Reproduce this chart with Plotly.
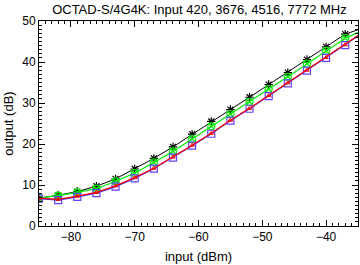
import plotly.graph_objects as go

x_in = [-85, -82, -79, -76, -73, -70, -67, -64, -61, -58, -55, -52, -49, -46, -43, -40, -37, -34]
out_420 = [6.8, 7.5, 8.4, 9.7, 11.5, 13.9, 16.5, 19.3, 22.4, 25.5, 28.4, 31.4, 34.5, 37.4, 40.6, 43.7, 46.8, 48.4]
out_3676 = [6.8, 7.4, 8.2, 9.1, 10.9, 12.9, 15.5, 18.2, 21.2, 24.3, 27.3, 30.3, 33.4, 36.4, 39.6, 42.7, 45.8, 47.9]
out_4516 = [6.8, 6.5, 7.3, 8.2, 9.8, 11.8, 14.1, 16.8, 19.7, 22.6, 25.8, 28.7, 31.8, 34.9, 38.0, 41.1, 44.2, 47.5]
out_7772 = [6.7, 6.3, 7.1, 8.0, 9.6, 11.6, 14.0, 16.7, 19.6, 22.5, 25.7, 28.6, 31.7, 34.8, 37.9, 41.0, 44.1, 47.4]

FONT = "Liberation Sans, Arial, sans-serif"

fig = go.Figure()
fig.add_trace(go.Scatter(x=x_in, y=out_420, mode="lines+markers", name="420",
                         line=dict(color="black", width=1),
                         marker=dict(symbol="asterisk-open", size=7, color="black", line=dict(color="black", width=1.2))))
fig.add_trace(go.Scatter(x=x_in, y=out_3676, mode="lines+markers", name="3676",
                         line=dict(color="#00ee00", width=1.2),
                         marker=dict(symbol="circle-x-open", size=7, color="#00ee00", line=dict(color="#00ee00", width=1.2))))
fig.add_trace(go.Scatter(x=x_in, y=out_7772, mode="lines+markers", name="7772",
                         line=dict(color="#3030ff", width=1.2),
                         marker=dict(symbol="square-open", size=7, color="#6040ff", line=dict(color="#6040ff", width=1.2))))
fig.add_trace(go.Scatter(x=x_in, y=out_4516, mode="lines+markers", name="4516",
                         line=dict(color="#ff0000", width=1.2),
                         marker=dict(symbol="triangle-up-open", size=4, color="#ff0000", line=dict(color="#ff0000", width=1))))

axis_common = dict(showgrid=False, zeroline=False, showline=True, linecolor="black", linewidth=1,
                   mirror="ticks", ticks="inside", ticklen=6, tickcolor="black",
                   tickfont=dict(family=FONT, size=12, color="black"))

fig.update_xaxes(range=[-85, -35], dtick=10, tick0=-80,
                 minor=dict(dtick=1, ticks="inside", ticklen=3, tickcolor="black"),
                 title=dict(text="input (dBm)", font=dict(family=FONT, size=13, color="black"), standoff=8),
                 **axis_common)
fig.update_yaxes(range=[0, 50], dtick=10,
                 minor=dict(dtick=1, ticks="inside", ticklen=3, tickcolor="black"),
                 title=dict(text="output (dB)", font=dict(family=FONT, size=13, color="black"), standoff=5),
                 **axis_common)

fig.update_layout(
    width=360, height=265,
    margin=dict(l=39, r=2, t=21, b=39),
    paper_bgcolor="white", plot_bgcolor="white",
    showlegend=False,
    title=dict(text="OCTAD-S/4G4K: Input 420, 3676, 4516, 7772 MHz", x=0.554, xanchor="center", y=0.983, yanchor="top",
               font=dict(family=FONT, size=13, color="black")),
)

fig.write_html("out.html", config={"displayModeBar": False},
               post_script="document.body.style.margin='0';document.body.style.padding='0';")
